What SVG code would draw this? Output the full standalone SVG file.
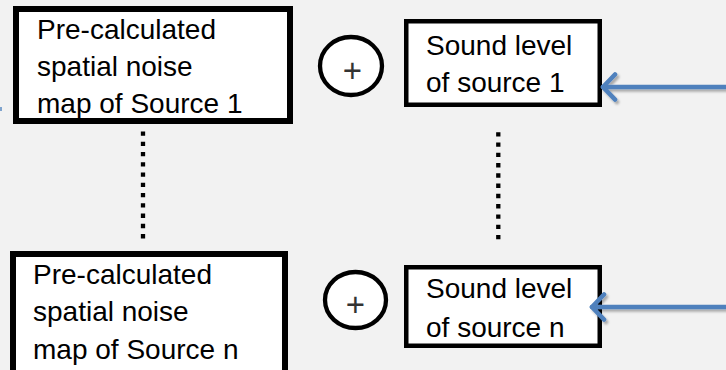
<svg xmlns="http://www.w3.org/2000/svg" width="726" height="370" viewBox="0 0 726 370">
  <style>
    .map { fill: #ffffff; stroke: #000000; stroke-width: 6; }
    .lvl { fill: #ffffff; stroke: #000000; stroke-width: 4.5; }
    .sum { fill: #ffffff; stroke: #000000; stroke-width: 4.3; }
    .lbl { font-family: "Liberation Sans", Arial, sans-serif; font-size: 28px; fill: #000000; }
    .plus { font-family: "Liberation Sans", Arial, sans-serif; font-size: 33px; fill: #333333; text-anchor: middle; }
    .dots { fill: none; stroke: #000000; stroke-width: 4.3; stroke-dasharray: 4.3 5.96; }
    .feed { fill: none; stroke: #4F81BD; stroke-width: 4.6; stroke-linecap: round; marker-end: url(#vhead); filter: url(#shade); }
  </style>
  <defs>
    <marker id="vhead" markerUnits="userSpaceOnUse" markerWidth="30" markerHeight="30" viewBox="-16 -15 20 30" refX="0" refY="0" orient="auto">
      <path d="M-12,-12.5 L0,0 L-12,12.5" fill="none" stroke="#4F81BD" stroke-width="4.6" stroke-linecap="round" stroke-linejoin="round"/>
    </marker>
    <filter id="shade" filterUnits="userSpaceOnUse" x="0" y="0" width="726" height="370">
      <feDropShadow dx="2" dy="2.5" stdDeviation="1" flood-color="#000000" flood-opacity="0.3"/>
    </filter>
  </defs>

  <rect width="726" height="370" fill="#F2F2F2"/>

  <!-- edge fragment at the left border -->
  <rect x="0" y="107" width="2" height="4" fill="#4F81BD" opacity="0.7"/>

  <!-- noise map of source 1 -->
  <g id="map1">
    <rect class="map" x="16" y="9" width="274" height="112"/>
    <text class="lbl" x="37" y="39">Pre-calculated</text>
    <text class="lbl" x="37" y="76">spatial noise</text>
    <text class="lbl" x="37" y="113">map of Source 1</text>
  </g>

  <!-- summation 1 -->
  <g id="sum1">
    <ellipse class="sum" cx="351" cy="66" rx="31" ry="29"/>
    <text class="plus" x="352.5" y="82">+</text>
  </g>

  <!-- sound level of source 1 -->
  <g id="level1">
    <rect class="lvl" x="406.25" y="21.25" width="193.5" height="83.5"/>
    <text class="lbl" x="426" y="55">Sound level</text>
    <text class="lbl" x="426" y="92">of source 1</text>
  </g>

  <!-- noise map of source n -->
  <g id="mapN">
    <rect class="map" x="13" y="254" width="272" height="140"/>
    <text class="lbl" x="33" y="284">Pre-calculated</text>
    <text class="lbl" x="33" y="321">spatial noise</text>
    <text class="lbl" x="33" y="359">map of Source n</text>
  </g>

  <!-- summation n -->
  <g id="sumN">
    <ellipse class="sum" cx="355.5" cy="300" rx="30.5" ry="28"/>
    <text class="plus" x="355.5" y="315.5">+</text>
  </g>

  <!-- sound level of source n -->
  <g id="levelN">
    <rect class="lvl" x="406.25" y="267.25" width="193.5" height="78.5"/>
    <text class="lbl" x="426" y="298">Sound level</text>
    <text class="lbl" x="426" y="337">of source n</text>
  </g>

  <!-- connectors -->
  <g id="connectors">
    <path class="dots" d="M143,131.5 V240"/>
    <path class="dots" d="M498.3,132.3 V241"/>
    <path class="feed" d="M730,87 H603"/>
    <path class="feed" d="M730,307 H592"/>
  </g>
</svg>
